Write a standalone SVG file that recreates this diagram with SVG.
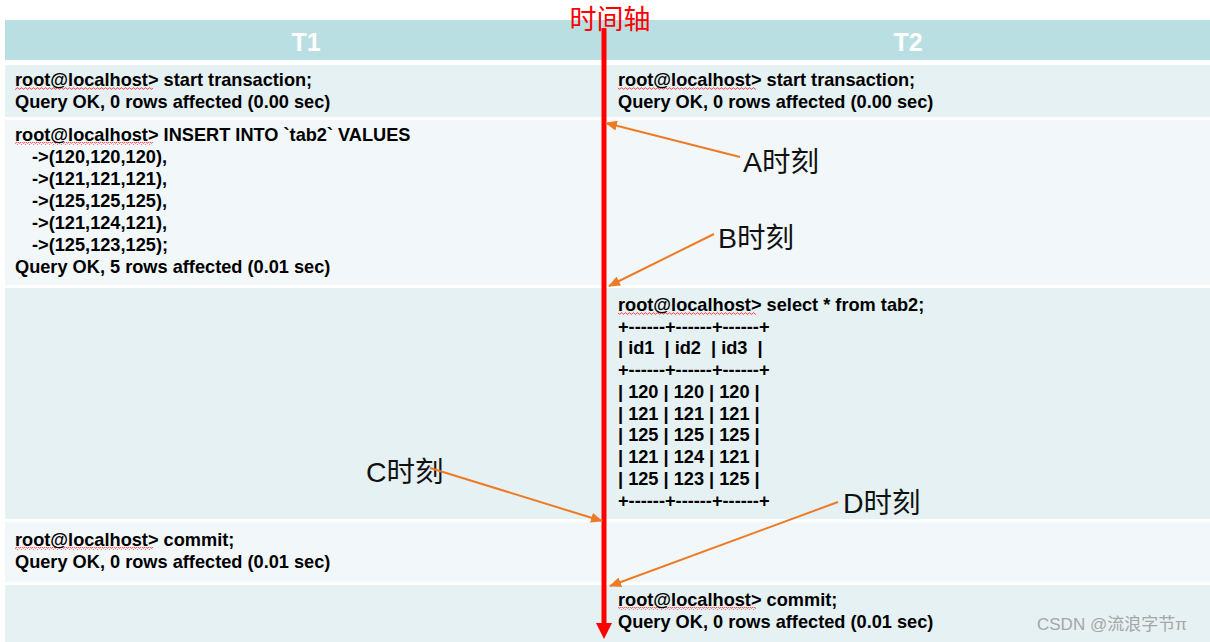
<svg xmlns="http://www.w3.org/2000/svg" width="1210" height="642" viewBox="0 0 1210 642">
<style>
.hdr{fill:#b9dfe2}
.rA{fill:#e5f1f3}
.rB{fill:#f2f7fa}
.ht{font-family:"Liberation Sans",Arial,sans-serif;font-weight:bold;font-size:25px;fill:#ffffff;text-anchor:middle}
.t{font-family:"Liberation Sans",Arial,sans-serif;font-weight:bold;font-size:18.2px;fill:#000000;white-space:pre}
.lbl{font-family:"Liberation Sans","Noto Sans CJK SC",sans-serif;font-size:28.5px;fill:#111111}
.axis{font-family:"Noto Sans CJK SC",sans-serif;font-size:27px;fill:#ff0000;text-anchor:middle}
.conn{stroke:#ef7a26;stroke-width:2;fill:none;marker-end:url(#ah)}
.wm{font-family:"Liberation Sans","Noto Sans CJK SC",sans-serif;font-size:17px;fill:#a6a6a6}
</style>
<defs>
<marker id="ah" viewBox="0 0 12 10" refX="11" refY="5" markerWidth="12" markerHeight="10" markerUnits="userSpaceOnUse" orient="auto">
<path d="M0,0 L12,5 L0,10 z" fill="#ef7a26"/>
</marker>
<pattern id="wave" width="4" height="3" patternUnits="userSpaceOnUse">
<path d="M0,2.2 L1,0.8 L2,0.8 L3,2.2 L4,2.2" stroke="#ff3030" stroke-width="0.8" fill="none"/>
</pattern>
</defs>
<rect width="1210" height="642" fill="#ffffff"/>
<g id="header">
<rect class="hdr" x="5" y="20" width="1205" height="40"/>
<text class="ht" x="306" y="51">T1</text>
<text class="ht" x="908" y="51">T2</text>
</g>
<g id="row1">
<rect class="rA" x="5" y="65" width="1205" height="52"/>
<rect x="15" y="87" width="138" height="3" fill="url(#wave)"/>
<text class="t" x="15" y="86">root@localhost&gt; start transaction;</text>
<text class="t" x="15" y="108">Query OK, 0 rows affected (0.00 sec)</text>
<rect x="618" y="87" width="138" height="3" fill="url(#wave)"/>
<text class="t" x="618" y="86">root@localhost&gt; start transaction;</text>
<text class="t" x="618" y="108">Query OK, 0 rows affected (0.00 sec)</text>
</g>
<g id="row2">
<rect class="rB" x="5" y="120" width="1205" height="165"/>
<rect x="15" y="142" width="138" height="3" fill="url(#wave)"/>
<text class="t" x="15" y="141">root@localhost&gt; INSERT INTO `tab2` VALUES</text>
<text class="t" x="32" y="163">-&gt;(120,120,120),</text>
<text class="t" x="32" y="185">-&gt;(121,121,121),</text>
<text class="t" x="32" y="207">-&gt;(125,125,125),</text>
<text class="t" x="32" y="229">-&gt;(121,124,121),</text>
<text class="t" x="32" y="251">-&gt;(125,123,125);</text>
<text class="t" x="15" y="273">Query OK, 5 rows affected (0.01 sec)</text>
</g>
<g id="row3">
<rect class="rA" x="5" y="288" width="1205" height="231"/>
<rect x="618" y="312" width="138" height="3" fill="url(#wave)"/>
<text class="t" x="618" y="311">root@localhost&gt; select * from tab2;</text>
<text class="t" x="618" y="333">+------+------+------+</text>
<text class="t" x="618" y="354">| id1  | id2  | id3  |</text>
<text class="t" x="618" y="376">+------+------+------+</text>
<text class="t" x="618" y="398">| 120 | 120 | 120 |</text>
<text class="t" x="618" y="420">| 121 | 121 | 121 |</text>
<text class="t" x="618" y="441">| 125 | 125 | 125 |</text>
<text class="t" x="618" y="463">| 121 | 124 | 121 |</text>
<text class="t" x="618" y="485">| 125 | 123 | 125 |</text>
<text class="t" x="618" y="507">+------+------+------+</text>
</g>
<g id="row4">
<rect class="rB" x="5" y="522" width="1205" height="60"/>
<rect x="15" y="547" width="138" height="3" fill="url(#wave)"/>
<text class="t" x="15" y="546">root@localhost&gt; commit;</text>
<text class="t" x="15" y="568">Query OK, 0 rows affected (0.01 sec)</text>
</g>
<g id="row5">
<rect class="rA" x="5" y="585" width="1205" height="57"/>
<rect x="618" y="607" width="138" height="3" fill="url(#wave)"/>
<text class="t" x="618" y="606">root@localhost&gt; commit;</text>
<text class="t" x="618" y="628">Query OK, 0 rows affected (0.01 sec)</text>
</g>
<g id="timeaxis">
<text class="axis" x="610" y="29">时间轴</text>
<line x1="604" y1="28" x2="604" y2="624" stroke="#ff0000" stroke-width="5"/>
<polygon points="596,623 612,623 604,639" fill="#ff0000"/>
</g>
<g id="labels">
<text id="labelA" class="lbl" x="743" y="172">A时刻</text>
<text id="labelB" class="lbl" x="718" y="248">B时刻</text>
<text id="labelC" class="lbl" x="366" y="482">C时刻</text>
<text id="labelD" class="lbl" x="843" y="513">D时刻</text>
</g>
<g id="connectors">
<line class="conn" x1="740" y1="157" x2="606" y2="123"/>
<line class="conn" x1="714" y1="234" x2="609" y2="286"/>
<line class="conn" x1="430" y1="468" x2="602" y2="521"/>
<line class="conn" x1="838" y1="502" x2="610" y2="586"/>
</g>
<text class="wm" x="1037" y="630">CSDN @流浪字节π</text>
</svg>
